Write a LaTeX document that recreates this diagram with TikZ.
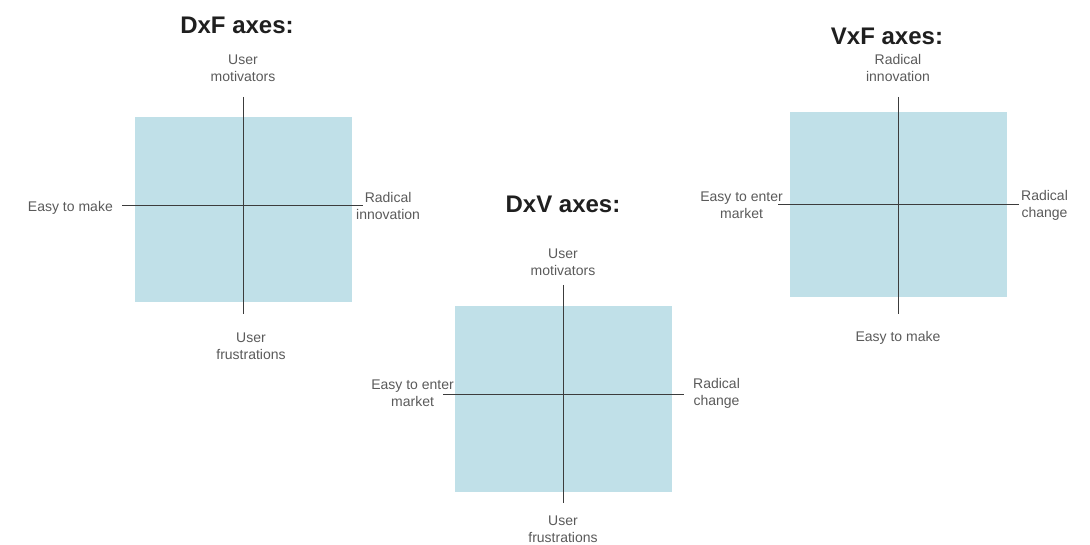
\documentclass[tikz,border=0pt]{standalone}
\usepackage{fontspec}
\setmainfont{Liberation Sans}
\usetikzlibrary{positioning}
\definecolor{quadblue}{RGB}{192,224,232}
\definecolor{axisgray}{RGB}{60,60,60}
\definecolor{labelgray}{RGB}{90,90,90}
\tikzset{
  quad/.style={fill=quadblue,minimum width=217pt,minimum height=185pt,inner sep=0pt},
  axisline/.style={axisgray,line width=1pt},
  lbl/.style={text=labelgray,font=\fontsize{14}{17}\selectfont,align=center,inner sep=0pt,yshift=-1.5pt},
  ttl/.style={text=black!88,font=\fontsize{24}{28}\selectfont\bfseries,inner sep=0pt}
}

\begin{document}
\begin{tikzpicture}[x=1pt,y=-1pt]
\useasboundingbox (0,0) rectangle (1090,545);
%
\begin{scope}[shift={(243,206)}]% first chart
\node[quad] (dxf) at (0,3.5) {};
\coordinate (dxf-n) at (0,-109);
\coordinate (dxf-s) at (0,108);
\coordinate (dxf-w) at (-121,0);
\coordinate (dxf-e) at (120,0);
\draw[axisline] (dxf-n)--(dxf-s);
\draw[axisline] (dxf-w)--(dxf-e);
\node[ttl] (dxf-title) at (-6,-181) {DxF axes:};
\node[lbl] (dxf-top) at (0,-139) {User\\motivators};
\node[lbl,anchor=east] (dxf-left) at (-130,0) {Easy to make};
\node[lbl,anchor=west] (dxf-right) at (113,-2) {Radical\\innovation};
\node[lbl] (dxf-bottom) at (8,139) {User\\frustrations};
\end{scope}
%
\begin{scope}[shift={(563,394)}]% second chart
\node[quad] (dxv) at (0.5,5) {};
\coordinate (dxv-n) at (0,-109);
\coordinate (dxv-s) at (0,109);
\coordinate (dxv-w) at (-120,0);
\coordinate (dxv-e) at (121,0);
\draw[axisline] (dxv-n)--(dxv-s);
\draw[axisline] (dxv-w)--(dxv-e);
\node[ttl] (dxv-title) at (0,-190) {DxV axes:};
\node[lbl] (dxv-top) at (0,-133.5) {User\\motivators};
\node[lbl,anchor=east] (dxv-left) at (-109,-2.5) {Easy to enter\\market};
\node[lbl,anchor=west] (dxv-right) at (130,-2.5) {Radical\\change};
\node[lbl] (dxv-bottom) at (0,134) {User\\frustrations};
\end{scope}
%
\begin{scope}[shift={(898,205)}]% third chart
\node[quad] (vxf) at (0.5,0) {};
\coordinate (vxf-n) at (0,-108);
\coordinate (vxf-s) at (0,109);
\coordinate (vxf-w) at (-120,0);
\coordinate (vxf-e) at (121,0);
\draw[axisline] (vxf-n)--(vxf-s);
\draw[axisline] (vxf-w)--(vxf-e);
\node[ttl] (vxf-title) at (-11,-169) {VxF axes:};
\node[lbl] (vxf-top) at (0,-139) {Radical\\innovation};
\node[lbl,anchor=east] (vxf-left) at (-115,-1.5) {Easy to enter\\market};
\node[lbl,anchor=west] (vxf-right) at (123,-1.5) {Radical\\change};
\node[lbl] (vxf-bottom) at (0,131) {Easy to make};
\end{scope}
%
\end{tikzpicture}
\end{document}
